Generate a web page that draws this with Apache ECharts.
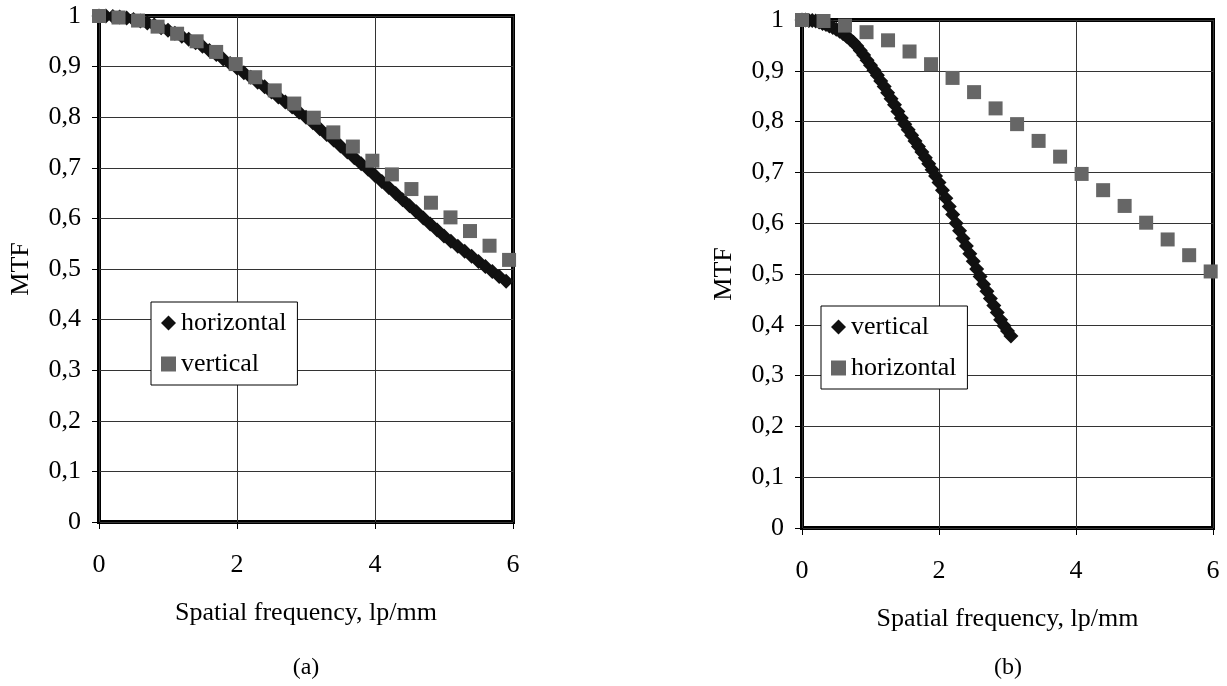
<!DOCTYPE html>
<html><head><meta charset="utf-8">
<script src="https://cdn.jsdelivr.net/npm/echarts@6/dist/echarts.min.js"></script>
<style>html,body{margin:0;padding:0;background:#fff}#c{width:1227px;height:686px}</style>
</head><body><div id="c"></div>
<script>
// ---------- data ----------
const xTickLabels = ['0', '2', '4', '6'];
const yTickLabels = ['0', '0,1', '0,2', '0,3', '0,4', '0,5', '0,6', '0,7', '0,8', '0,9', '1'];
const xAxisName = 'Spatial frequency, lp/mm';
const yAxisName = 'MTF';
const captions = ['(a)', '(b)'];

// chart (a): horizontal = black diamonds, vertical = grey squares
const aHorX = [0.0,0.1,0.2,0.3,0.4,0.5,0.6,0.7,0.8,0.9,1.0,1.1,1.2,1.3,1.4,1.5,1.6,1.7,1.8,1.9,2.0,2.1,2.2,2.3,2.4,2.5,2.6,2.7,2.8,2.9,3.0,3.1,3.2,3.3,3.4,3.5,3.6,3.7,3.8,3.9,4.0,4.1,4.2,4.3,4.4,4.5,4.6,4.7,4.8,4.9,5.0,5.1,5.2,5.3,5.4,5.5,5.6,5.7,5.8,5.9];
const aHorY = [1.000,1.000,0.999,0.998,0.996,0.993,0.990,0.986,0.982,0.977,0.972,0.966,0.960,0.954,0.947,0.940,0.932,0.924,0.915,0.906,0.897,0.888,0.879,0.869,0.860,0.850,0.840,0.830,0.820,0.810,0.800,0.789,0.777,0.766,0.755,0.743,0.731,0.720,0.708,0.697,0.685,0.673,0.661,0.649,0.637,0.625,0.613,0.601,0.589,0.577,0.565,0.555,0.545,0.535,0.525,0.515,0.505,0.495,0.485,0.476];
const aVerX = [0,0.283,0.566,0.849,1.132,1.415,1.698,1.981,2.264,2.547,2.83,3.113,3.396,3.679,3.962,4.245,4.528,4.811,5.094,5.377,5.66,5.943];
const aVerY = [1.000,0.997,0.991,0.979,0.965,0.950,0.929,0.905,0.879,0.853,0.827,0.799,0.770,0.742,0.714,0.687,0.658,0.631,0.602,0.575,0.546,0.518];

// chart (b): vertical = black diamonds, horizontal = grey squares
const bVerX = [0.00,0.05,0.10,0.15,0.20,0.25,0.30,0.35,0.40,0.45,0.50,0.55,0.60,0.65,0.70,0.75,0.80,0.85,0.90,0.95,1.00,1.05,1.10,1.15,1.20,1.25,1.30,1.35,1.40,1.45,1.50,1.55,1.60,1.65,1.70,1.75,1.80,1.85,1.90,1.95,2.00,2.05,2.10,2.15,2.20,2.25,2.30,2.35,2.40,2.45,2.50,2.55,2.60,2.65,2.70,2.75,2.80,2.85,2.90,2.95,3.00,3.05];
const bVerY = [1.000,1.000,0.999,0.999,0.998,0.996,0.993,0.991,0.988,0.985,0.982,0.978,0.973,0.968,0.962,0.956,0.949,0.940,0.931,0.921,0.911,0.901,0.891,0.880,0.869,0.857,0.845,0.833,0.820,0.807,0.795,0.784,0.773,0.762,0.751,0.740,0.729,0.717,0.705,0.693,0.680,0.665,0.649,0.633,0.617,0.600,0.585,0.570,0.555,0.540,0.525,0.510,0.495,0.480,0.466,0.452,0.438,0.424,0.410,0.398,0.388,0.378];
const bHorX = [0,0.314,0.628,0.942,1.256,1.57,1.884,2.198,2.512,2.826,3.14,3.454,3.768,4.082,4.396,4.71,5.024,5.338,5.652,5.966];
const bHorY = [1.000,0.998,0.989,0.976,0.960,0.938,0.913,0.886,0.858,0.826,0.795,0.762,0.731,0.697,0.665,0.634,0.601,0.568,0.537,0.505];

// ---------- chart ----------
const FONT = '"Liberation Serif", "Times New Roman", serif';
const zip = (xs, ys) => xs.map((x, i) => [x, ys[i]]);

const grids = [
  { left: 99, top: 16, width: 414, height: 506 },
  { left: 802, top: 20, width: 411, height: 508 }
];

function xAxisFor(i) {
  return {
    type: 'value', gridIndex: i, min: 0, max: 6, interval: 2,
    name: xAxisName, nameLocation: 'middle', nameGap: 78,
    nameTextStyle: { fontFamily: FONT, fontSize: 26, color: '#000' },
    axisLine: { show: false },
    axisTick: { show: true, length: 7, lineStyle: { color: '#000', width: 1 } },
    axisLabel: { margin: 30, fontFamily: FONT, fontSize: 26, color: '#000',
      formatter: v => xTickLabels[Math.round(v / 2)] },
    splitLine: { show: true, lineStyle: { color: '#333', width: 1 } }
  };
}
function yAxisFor(i) {
  return {
    type: 'value', gridIndex: i, min: 0, max: 1, interval: 0.1,
    name: yAxisName, nameLocation: 'middle', nameGap: 65, nameRotate: 90,
    nameTextStyle: { fontFamily: FONT, fontSize: 26, color: '#000' },
    axisLine: { show: false },
    axisTick: { show: true, length: 7, lineStyle: { color: '#000', width: 1 } },
    axisLabel: { margin: 18, fontFamily: FONT, fontSize: 26, color: '#000',
      formatter: v => yTickLabels[Math.round(v * 10)] },
    splitLine: { show: true, lineStyle: { color: '#333', width: 1 } }
  };
}

function diamonds(name, gi, xs, ys) {
  return { type: 'scatter', name, xAxisIndex: gi, yAxisIndex: gi, data: zip(xs, ys),
    symbol: 'diamond', symbolSize: 15, clip: false, silent: true, z: 2,
    itemStyle: { color: '#111', opacity: 1 }, emphasis: { disabled: true } };
}
function squares(name, gi, xs, ys) {
  return { type: 'scatter', name, xAxisIndex: gi, yAxisIndex: gi, data: zip(xs, ys),
    symbol: 'rect', symbolSize: 14, clip: false, silent: true, z: 3,
    itemStyle: { color: '#666', opacity: 1 }, emphasis: { disabled: true } };
}

function legendFor(items, left, top) {
  return {
    data: items, orient: 'vertical', left, top, selectedMode: false,
    formatter: n => n.slice(2),
    itemWidth: 15, itemHeight: 15, itemGap: 15, padding: [8, 11, 8, 10],
    borderColor: '#000', borderWidth: 1, backgroundColor: '#fff',
    textStyle: { fontFamily: FONT, fontSize: 26, color: '#000' }
  };
}

const chart = echarts.init(document.getElementById('c'), null, { renderer: 'canvas' });
chart.setOption({
  animation: false,
  backgroundColor: '#fff',
  grid: grids.map(g => Object.assign({ show: true, borderColor: '#000', borderWidth: 4, backgroundColor: 'transparent' }, g)),
  xAxis: [xAxisFor(0), xAxisFor(1)],
  yAxis: [yAxisFor(0), yAxisFor(1)],
  legend: [
    legendFor([{ name: 'a-horizontal', icon: 'diamond' }, { name: 'a-vertical', icon: 'rect' }], 151, 302),
    legendFor([{ name: 'b-vertical', icon: 'diamond' }, { name: 'b-horizontal', icon: 'rect' }], 821, 306)
  ],
  series: [
    diamonds('a-horizontal', 0, aHorX, aHorY),
    squares('a-vertical', 0, aVerX, aVerY),
    diamonds('b-vertical', 1, bVerX, bVerY),
    squares('b-horizontal', 1, bHorX, bHorY)
  ],
  graphic: [
    { type: 'text', x: 306, y: 668, style: { text: captions[0], align: 'center', verticalAlign: 'middle', font: '24px ' + FONT, fill: '#000' } },
    { type: 'text', x: 1008, y: 668, style: { text: captions[1], align: 'center', verticalAlign: 'middle', font: '24px ' + FONT, fill: '#000' } }
  ]
});
</script>
</body></html>
